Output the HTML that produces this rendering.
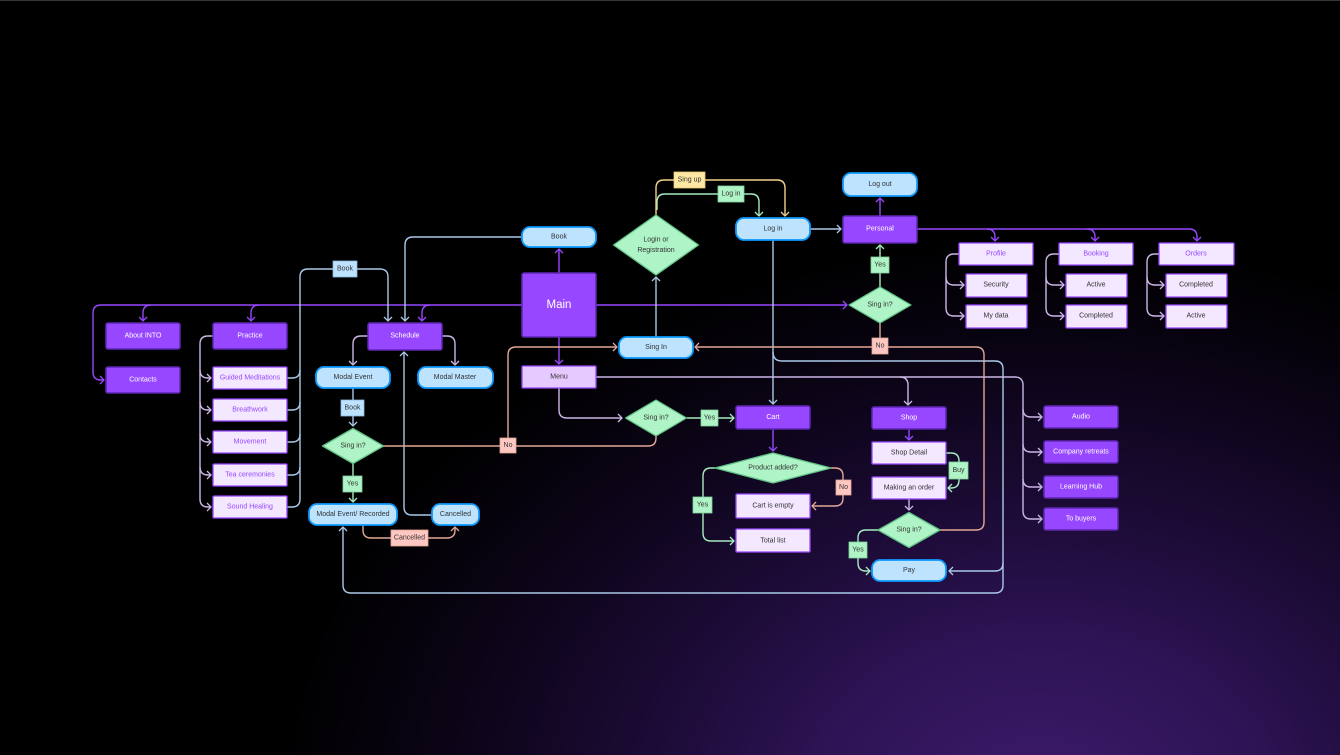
<!DOCTYPE html>
<html><head><meta charset="utf-8"><style>
html,body{margin:0;padding:0;}
body{width:1340px;height:755px;overflow:hidden;background:#000;}
#bg{position:absolute;left:0;top:0;width:1340px;height:755px;
background:radial-gradient(ellipse 760px 560px at 1040px 800px,#3d1a6b 0%,#2e1456 28%,#1c0b36 52%,#0b0416 78%,#000 100%);
border-top:1px solid #363636;box-sizing:border-box;}
svg{position:absolute;left:0;top:0;}
text{font-family:"Liberation Sans",Arial,sans-serif;font-size:7px;text-anchor:middle;dominant-baseline:central;fill:#333;}
.w{fill:#fff;}
.p{fill:#9747ff;}
.nd{fill:#9747ff;stroke:#5f27b3;stroke-width:1.5;}
.lt{fill:#f3e8ff;stroke:#9747ff;stroke-width:1.3;}
.mn{fill:#e6c9ff;stroke:#9747ff;stroke-width:1.3;}
.bl{fill:#bde3ff;stroke:#0d99ff;stroke-width:1.8;}
.dm{fill:#aff4c6;stroke:#62c488;stroke-width:1.3;stroke-linejoin:round;}
.l{fill:none;stroke-width:1.4;}
.cp{stroke:#9747ff;} .cb{stroke:#aac9e7;} .cv{stroke:#cbb6e6;} .cs{stroke:#e3a796;} .cg{stroke:#a6ecbf;} .cy{stroke:#f3d28a;}
.lbB{fill:#bde3ff;stroke:#8db6dc;stroke-width:.8;}
.lbG{fill:#aff4c6;stroke:#7fd39f;stroke-width:.8;}
.lbS{fill:#ffc7c2;stroke:#e3a796;stroke-width:.8;}
.lbY{fill:#ffe8a3;stroke:#e6c86e;stroke-width:.8;}
</style></head><body>
<div id="bg"></div>
<svg width="1340" height="755" viewBox="0 0 1340 755" xmlns="http://www.w3.org/2000/svg">
<defs>
<marker id="mp" viewBox="-5 -5 10 10" markerWidth="10" markerHeight="10" refX="0" refY="0" orient="auto" markerUnits="userSpaceOnUse"><path d="M-4,-4 L0,0 L-4,4" fill="none" stroke="#9747ff" stroke-width="1.3"/></marker>
<marker id="mb" viewBox="-5 -5 10 10" markerWidth="10" markerHeight="10" refX="0" refY="0" orient="auto" markerUnits="userSpaceOnUse"><path d="M-4,-4 L0,0 L-4,4" fill="none" stroke="#aac9e7" stroke-width="1.3"/></marker>
<marker id="mv" viewBox="-5 -5 10 10" markerWidth="10" markerHeight="10" refX="0" refY="0" orient="auto" markerUnits="userSpaceOnUse"><path d="M-4,-4 L0,0 L-4,4" fill="none" stroke="#cbb6e6" stroke-width="1.3"/></marker>
<marker id="ms" viewBox="-5 -5 10 10" markerWidth="10" markerHeight="10" refX="0" refY="0" orient="auto" markerUnits="userSpaceOnUse"><path d="M-4,-4 L0,0 L-4,4" fill="none" stroke="#e3a796" stroke-width="1.3"/></marker>
<marker id="mg" viewBox="-5 -5 10 10" markerWidth="10" markerHeight="10" refX="0" refY="0" orient="auto" markerUnits="userSpaceOnUse"><path d="M-4,-4 L0,0 L-4,4" fill="none" stroke="#a6ecbf" stroke-width="1.3"/></marker>
<marker id="my" viewBox="-5 -5 10 10" markerWidth="10" markerHeight="10" refX="0" refY="0" orient="auto" markerUnits="userSpaceOnUse"><path d="M-4,-4 L0,0 L-4,4" fill="none" stroke="#f3d28a" stroke-width="1.3"/></marker>
</defs>

<!-- ===== connectors ===== -->
<!-- purple -->
<path class="l cp" d="M522,305 L101,305 Q93,305 93,313 L93,372 Q93,380 101,380 L104,380" marker-end="url(#mp)"/>
<path class="l cp" d="M151,305 Q143,305 143,313 L143,321" marker-end="url(#mp)"/>
<path class="l cp" d="M259,305 Q251,305 251,313 L251,321" marker-end="url(#mp)"/>
<path class="l cp" d="M430,305 Q422,305 422,313 L422,321" marker-end="url(#mp)"/>
<path class="l cp" d="M559,273 L559,249" marker-end="url(#mp)"/>
<path class="l cp" d="M559,337 L559,364" marker-end="url(#mp)"/>
<path class="l cp" d="M596,305 L847,305" marker-end="url(#mp)"/>
<path class="l cp" d="M880,216 L880,198" marker-end="url(#mp)"/>
<path class="l cp" d="M917,229 L1189,229 Q1197,229 1197,237 L1197,241" marker-end="url(#mp)"/>
<path class="l cp" d="M987,229 Q995,229 995,237 L995,241" marker-end="url(#mp)"/>
<path class="l cp" d="M1087,229 Q1095,229 1095,237 L1095,241" marker-end="url(#mp)"/>
<path class="l cp" d="M773,429 L773,451" marker-end="url(#mp)"/>
<path class="l cp" d="M909,429 L909,440" marker-end="url(#mp)"/>

<!-- blue -->
<path class="l cb" d="M522,237 L413,237 Q405,237 405,245 L405,321" marker-end="url(#mb)"/>
<path class="l cb" d="M287,507 L292,507 Q300,507 300,499 L300,277 Q300,269 308,269 L380,269 Q388,269 388,277 L388,321" marker-end="url(#mb)"/>
<path class="l cb" d="M287,378 L292,378 Q300,378 300,370"/>
<path class="l cb" d="M287,410 L292,410 Q300,410 300,402"/>
<path class="l cb" d="M287,442 L292,442 Q300,442 300,434"/>
<path class="l cb" d="M287,475 L292,475 Q300,475 300,467"/>
<path class="l cb" d="M353,388 L353,426" marker-end="url(#mb)"/>
<path class="l cb" d="M432,515 L412,515 Q404,515 404,507 L404,352" marker-end="url(#mb)"/>
<path class="l cb" d="M773,240 L773,404" marker-end="url(#mb)"/>
<path class="l cb" d="M773,352 Q773,361 782,361 L995,361 Q1003,361 1003,369 L1003,563 Q1003,571 995,571 L949,571" marker-end="url(#mb)"/>
<path class="l cb" d="M1003,563 L1003,585 Q1003,593 995,593 L351,593 Q343,593 343,585 L343,527" marker-end="url(#mb)"/>
<path class="l cb" d="M810,229 L841,229" marker-end="url(#mb)"/>
<path class="l cb" d="M656,337 L656,277" marker-end="url(#mb)"/>

<!-- lavender -->
<path class="l cv" d="M368,336 L361,336 Q353,336 353,344 L353,365" marker-end="url(#mv)"/>
<path class="l cv" d="M442,336 L447,336 Q455,336 455,344 L455,365" marker-end="url(#mv)"/>
<path class="l cv" d="M213,336 L208,336 Q200,336 200,344 L200,499 Q200,507 208,507 L211,507" marker-end="url(#mv)"/>
<path class="l cv" d="M200,370 Q200,378 208,378 L211,378" marker-end="url(#mv)"/>
<path class="l cv" d="M200,402 Q200,410 208,410 L211,410" marker-end="url(#mv)"/>
<path class="l cv" d="M200,434 Q200,442 208,442 L211,442" marker-end="url(#mv)"/>
<path class="l cv" d="M200,467 Q200,475 208,475 L211,475" marker-end="url(#mv)"/>
<path class="l cv" d="M959,254 L954,254 Q946,254 946,262 L946,308 Q946,316 954,316 L964,316" marker-end="url(#mv)"/>
<path class="l cv" d="M946,277 Q946,285 954,285 L964,285" marker-end="url(#mv)"/>
<path class="l cv" d="M1059,254 L1054,254 Q1046,254 1046,262 L1046,308 Q1046,316 1054,316 L1064,316" marker-end="url(#mv)"/>
<path class="l cv" d="M1046,277 Q1046,285 1054,285 L1064,285" marker-end="url(#mv)"/>
<path class="l cv" d="M1159,254 L1155,254 Q1147,254 1147,262 L1147,308 Q1147,316 1155,316 L1164,316" marker-end="url(#mv)"/>
<path class="l cv" d="M1147,277 Q1147,285 1155,285 L1164,285" marker-end="url(#mv)"/>
<path class="l cv" d="M559,388 L559,410 Q559,418 567,418 L622,418" marker-end="url(#mv)"/>
<path class="l cv" d="M596,377 L1015,377 Q1023,377 1023,385 L1023,511 Q1023,519 1031,519 L1042,519" marker-end="url(#mv)"/>
<path class="l cv" d="M1023,409 Q1023,417 1031,417 L1042,417" marker-end="url(#mv)"/>
<path class="l cv" d="M1023,444 Q1023,452 1031,452 L1042,452" marker-end="url(#mv)"/>
<path class="l cv" d="M1023,479 Q1023,487 1031,487 L1042,487" marker-end="url(#mv)"/>
<path class="l cv" d="M900,377 Q908,377 908,385 L908,405" marker-end="url(#mv)"/>
<path class="l cv" d="M909,499 L909,510" marker-end="url(#mv)"/>

<!-- salmon -->
<path class="l cs" d="M383,446 L648,446 Q656,446 656,438 L656,436"/>
<path class="l cs" d="M508,446 L508,355 Q508,347 516,347 L617,347" marker-end="url(#ms)"/>
<path class="l cs" d="M940,530 L976,530 Q984,530 984,522 L984,355 Q984,347 976,347 L695,347" marker-end="url(#ms)"/>
<path class="l cs" d="M880,323 L880,347"/>
<path class="l cs" d="M831,468 L835,468 Q843,468 843,476 L843,498 Q843,506 835,506 L812,506" marker-end="url(#ms)"/>
<path class="l cs" d="M363,525 L363,530 Q363,538 371,538 L447,538 Q455,538 455,530 L455,527" marker-end="url(#ms)"/>

<!-- green -->
<path class="l cg" d="M880,287 L880,245" marker-end="url(#mg)"/>
<path class="l cg" d="M687,418 L734,418" marker-end="url(#mg)"/>
<path class="l cg" d="M353,463 L353,502" marker-end="url(#mg)"/>
<path class="l cg" d="M715,468 L711,468 Q703,468 703,476 L703,533 Q703,541 711,541 L734,541" marker-end="url(#mg)"/>
<path class="l cg" d="M878,530 L866,530 Q858,530 858,538 L858,563 Q858,571 866,571 L870,571" marker-end="url(#mg)"/>
<path class="l cg" d="M946,453 L951,453 Q959,453 959,461 L959,480 Q959,488 951,488 L948,488" marker-end="url(#mg)"/>
<path class="l cg" d="M657,210 L657,202 Q657,194 665,194 L751,194 Q759,194 759,202 L759,216" marker-end="url(#mg)"/>

<!-- yellow -->
<path class="l cy" d="M656,215 L656,188 Q656,180 664,180 L777,180 Q785,180 785,188 L785,216" marker-end="url(#my)"/>

<!-- ===== nodes ===== -->
<!-- dark purple -->
<rect class="nd" x="106" y="323" width="74" height="26" rx="2"/><text class="w" x="143" y="336">About INTO</text>
<rect class="nd" x="106" y="367" width="74" height="26" rx="2"/><text class="w" x="143" y="380">Contacts</text>
<rect class="nd" x="213" y="323" width="74" height="26" rx="2"/><text class="w" x="250" y="336">Practice</text>
<rect class="nd" x="368" y="323" width="74" height="27" rx="2"/><text class="w" x="405" y="336">Schedule</text>
<rect class="nd" x="522" y="273" width="74" height="64" rx="2"/><text class="w" x="559" y="305" style="font-size:11.5px">Main</text>
<rect class="nd" x="843" y="216" width="74" height="27" rx="2"/><text class="w" x="880" y="229">Personal</text>
<rect class="nd" x="736" y="406" width="74" height="23" rx="2"/><text class="w" x="773" y="417.5">Cart</text>
<rect class="nd" x="872" y="407" width="74" height="22" rx="2"/><text class="w" x="909" y="418">Shop</text>
<rect class="nd" x="1044" y="406" width="74" height="22" rx="2"/><text class="w" x="1081" y="417">Audio</text>
<rect class="nd" x="1044" y="441" width="74" height="22" rx="2"/><text class="w" x="1081" y="452">Company retreats</text>
<rect class="nd" x="1044" y="476" width="74" height="22" rx="2"/><text class="w" x="1081" y="487">Learning Hub</text>
<rect class="nd" x="1044" y="508" width="74" height="22" rx="2"/><text class="w" x="1081" y="519">To buyers</text>

<!-- light lavender -->
<rect class="lt" x="213" y="367" width="74" height="22" rx="1"/><text class="p" x="250" y="378">Guided Meditations</text>
<rect class="lt" x="213" y="399" width="74" height="22" rx="1"/><text class="p" x="250" y="410">Breathwork</text>
<rect class="lt" x="213" y="431" width="74" height="22" rx="1"/><text class="p" x="250" y="442">Movement</text>
<rect class="lt" x="213" y="464" width="74" height="22" rx="1"/><text class="p" x="250" y="475">Tea ceremonies</text>
<rect class="lt" x="213" y="496" width="74" height="22" rx="1"/><text class="p" x="250" y="507">Sound Healing</text>
<rect class="lt" x="959" y="243" width="74" height="22" rx="1"/><text class="p" x="996" y="254">Profile</text>
<rect class="lt" x="1059" y="243" width="74" height="22" rx="1"/><text class="p" x="1096" y="254">Booking</text>
<rect class="lt" x="1159" y="243" width="75" height="22" rx="1"/><text class="p" x="1196" y="254">Orders</text>
<rect class="lt" x="966" y="274" width="61" height="23" rx="1"/><text x="996" y="285">Security</text>
<rect class="lt" x="966" y="305" width="61" height="23" rx="1"/><text x="996" y="316">My data</text>
<rect class="lt" x="1066" y="274" width="61" height="23" rx="1"/><text x="1096" y="285">Active</text>
<rect class="lt" x="1066" y="305" width="61" height="23" rx="1"/><text x="1096" y="316">Completed</text>
<rect class="lt" x="1166" y="274" width="61" height="23" rx="1"/><text x="1196" y="285">Completed</text>
<rect class="lt" x="1166" y="305" width="61" height="23" rx="1"/><text x="1196" y="316">Active</text>
<rect class="lt" x="872" y="442" width="74" height="22" rx="1"/><text x="909" y="453">Shop Detail</text>
<rect class="lt" x="872" y="477" width="74" height="22" rx="1"/><text x="909" y="488">Making an order</text>
<rect class="lt" x="736" y="494" width="74" height="24" rx="1"/><text x="773" y="506">Cart is empty</text>
<rect class="lt" x="736" y="529" width="74" height="23" rx="1"/><text x="773" y="541">Total list</text>
<rect class="mn" x="522" y="366" width="74" height="22" rx="1"/><text x="559" y="377">Menu</text>

<!-- blue pills -->
<rect class="bl" x="522" y="227" width="74" height="20" rx="8"/><text x="559" y="237">Book</text>
<rect class="bl" x="316" y="367" width="74" height="21" rx="8"/><text x="353" y="377.5">Modal Event</text>
<rect class="bl" x="418" y="367" width="75" height="21" rx="8"/><text x="455" y="377.5">Modal Master</text>
<rect class="bl" x="309" y="504" width="88" height="21" rx="8"/><text x="353" y="514.5">Modal Event/ Recorded</text>
<rect class="bl" x="432" y="504" width="47" height="21" rx="8"/><text x="455.5" y="514.5">Cancelled</text>
<rect class="bl" x="619" y="337" width="74" height="21" rx="8"/><text x="656" y="347.5">Sing In</text>
<rect class="bl" x="736" y="218" width="74" height="22" rx="8"/><text x="773" y="229">Log in</text>
<rect class="bl" x="843" y="173" width="74" height="23" rx="8"/><text x="880" y="184.5">Log out</text>
<rect class="bl" x="872" y="560" width="74" height="21" rx="8"/><text x="909" y="570.5">Pay</text>

<!-- diamonds -->
<polygon class="dm" points="656,215 698.5,245 656,275 613.5,245"/>
<text x="656" y="240">Login or</text><text x="656" y="250.5">Registration</text>
<polygon class="dm" points="353,428.5 383.5,446 353,463.5 322.5,446"/><text x="353" y="446">Sing in?</text>
<polygon class="dm" points="880,287 911,305 880,323 849,305"/><text x="880" y="305">Sing in?</text>
<polygon class="dm" points="656,400 686.5,418 656,436 625.5,418"/><text x="656" y="418">Sing in?</text>
<polygon class="dm" points="773,453 831,468 773,483 715,468"/><text x="773" y="468">Product added?</text>
<polygon class="dm" points="909,512.5 940,530 909,547.5 878,530"/><text x="909" y="530">Sing in?</text>

<!-- edge labels -->
<rect class="lbB" x="333" y="261" width="24" height="16"/><text x="345" y="269">Book</text>
<rect class="lbB" x="341" y="400" width="23" height="16"/><text x="352.5" y="408">Book</text>
<rect class="lbG" x="343" y="476" width="19" height="16"/><text x="352.5" y="484">Yes</text>
<rect class="lbS" x="391" y="530" width="37" height="16"/><text x="409.5" y="538">Cancelled</text>
<rect class="lbS" x="500" y="438" width="16" height="15"/><text x="508" y="445.5">No</text>
<rect class="lbG" x="701" y="410" width="17" height="16"/><text x="709.5" y="418">Yes</text>
<rect class="lbG" x="693" y="497" width="19" height="16"/><text x="702.5" y="505">Yes</text>
<rect class="lbS" x="836" y="480" width="15" height="15"/><text x="843.5" y="487.5">No</text>
<rect class="lbG" x="949" y="462" width="19" height="17"/><text x="958.5" y="470.5">Buy</text>
<rect class="lbG" x="849" y="542" width="18" height="16"/><text x="858" y="550">Yes</text>
<rect class="lbG" x="871" y="257" width="18" height="16"/><text x="880" y="265">Yes</text>
<rect class="lbS" x="872" y="338" width="16" height="16"/><text x="880" y="346">No</text>
<rect class="lbY" x="674" y="172" width="31" height="16"/><text x="689.5" y="180">Sing up</text>
<rect class="lbG" x="718" y="186" width="26" height="16"/><text x="731" y="194">Log in</text>
</svg>
</body></html>
